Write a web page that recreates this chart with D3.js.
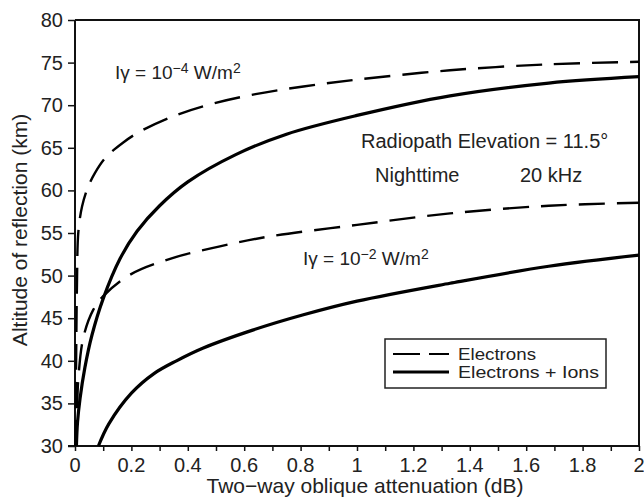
<!DOCTYPE html>
<html>
<head>
<meta charset="utf-8">
<script src="https://cdn.jsdelivr.net/npm/d3@7"></script>
<style>
  body { margin: 0; background: #fff; }
  svg { font-family: "Liberation Sans", Arial, Helvetica, sans-serif; }
</style>
</head>
<body>
<div id="chart"></div>
<script>
// [attenuation dB, altitude km]
const electronsHigh = [[0.002,30],[0.004,40],[0.007,49],[0.012,55.2],[0.025,58.1],[0.045,60.3],[0.07,62.0],[0.11,63.9],[0.17,65.6],[0.23,66.9],[0.36,68.85],[0.49,70.2],[0.64,71.3],[0.81,72.2],[1.0,73.0],[1.33,74.1],[1.68,74.8],[2.0,75.1]];
const ionsHigh = [[0.005,30],[0.009,32.8],[0.018,35.6],[0.035,39.2],[0.06,43.0],[0.1,47.3],[0.16,52.0],[0.22,55.2],[0.3,58.2],[0.4,61.0],[0.57,64.2],[0.75,66.6],[1.0,68.8],[1.33,71.1],[1.68,72.6],[2.0,73.35]];
const electronsLow = [[0.002,30],[0.007,34],[0.012,38],[0.03,42.8],[0.065,46],[0.1,47.6],[0.195,50.1],[0.34,52.0],[0.51,53.4],[0.69,54.6],[1.0,55.95],[1.33,57.3],[1.68,58.2],[2.0,58.55]];
const ionsLow = [[0.083,30],[0.12,32.6],[0.2,36.2],[0.28,38.5],[0.36,40.0],[0.455,41.5],[0.63,43.6],[0.81,45.4],[1.0,47.0],[1.33,49.1],[1.68,51.1],[2.0,52.4]];

const xTicks = d3.range(0, 2.001, 0.1);
const xLabels = [0, 0.2, 0.4, 0.6, 0.8, 1, 1.2, 1.4, 1.6, 1.8, 2];
const yTicks = [30, 35, 40, 45, 50, 55, 60, 65, 70, 75, 80];

const width = 644, height = 498;
const margin = { top: 20, right: 5, bottom: 52, left: 75 };

const svg = d3.select('#chart').append('svg')
  .attr('width', width)
  .attr('height', height);

const x = d3.scaleLinear().domain([0, 2]).range([margin.left, width - margin.right]);
const y = d3.scaleLinear().domain([30, 80]).range([height - margin.bottom, margin.top]);

// frame (top + right)
svg.append('path')
  .attr('d', `M${x(0)},${y(80)}H${x(2)}V${y(30)}`)
  .attr('fill', 'none')
  .attr('stroke', '#111')
  .attr('stroke-width', 2);

// x axis
const xAxis = svg.append('g')
  .attr('transform', `translate(0,${y(30)})`)
  .call(d3.axisBottom(x).tickValues(xTicks).tickSize(5).tickFormat(''));
xAxis.select('.domain').attr('stroke', '#111').attr('stroke-width', 2)
  .attr('d', `M${x(0) - 7},0H${x(2)}`);
xAxis.selectAll('.tick line').attr('stroke', '#111').attr('stroke-width', 1.5);

svg.append('g').selectAll('text')
  .data(xLabels)
  .enter().append('text')
  .attr('x', d => x(d))
  .attr('y', y(30) + 26)
  .attr('text-anchor', 'middle')
  .attr('font-size', 20)
  .attr('fill', '#222')
  .text(d => d);

// y axis
const yAxis = svg.append('g')
  .attr('transform', `translate(${x(0)},0)`)
  .call(d3.axisLeft(y).tickValues(yTicks).tickSize(7).tickPadding(5));
yAxis.select('.domain').attr('stroke', '#111').attr('stroke-width', 2)
  .attr('d', `M0,${y(80)}V${y(30)}`);
yAxis.selectAll('.tick line').attr('stroke', '#111').attr('stroke-width', 1.5);
yAxis.selectAll('.tick text').attr('font-size', 20).attr('fill', '#222')
  .attr('font-family', '"Liberation Sans", Arial, sans-serif');

// axis titles
svg.append('text')
  .attr('x', 365)
  .attr('y', 493)
  .attr('text-anchor', 'middle')
  .attr('font-size', 21)
  .attr('fill', '#222')
  .text('Two\u2212way oblique attenuation (dB)');

svg.append('text')
  .attr('transform', `translate(27,230) rotate(-90)`)
  .attr('text-anchor', 'middle')
  .attr('font-size', 21)
  .attr('fill', '#222')
  .text('Altitude of reflection (km)');

// curves
const line = d3.line()
  .x(d => x(d[0]))
  .y(d => y(d[1]))
  .curve(d3.curveCatmullRom.alpha(0.5));

const series = [
  { data: electronsHigh, dash: '26,12', w: 2.4 },
  { data: electronsLow, dash: '26,12', w: 2.4 },
  { data: ionsHigh, dash: null, w: 3.2 },
  { data: ionsLow, dash: null, w: 3.2 }
];

svg.append('g').selectAll('path')
  .data(series)
  .enter().append('path')
  .attr('d', d => line(d.data))
  .attr('fill', 'none')
  .attr('stroke', '#000')
  .attr('stroke-width', d => d.w)
  .attr('stroke-dasharray', d => d.dash);

// annotations
function irradiance(px, py, exp) {
  const t = svg.append('text')
    .attr('x', px)
    .attr('y', py)
    .attr('font-size', 19)
    .attr('fill', '#222');
  t.append('tspan').text('I\u03b3 = 10');
  t.append('tspan').attr('dy', -6).attr('font-size', 14).text('\u2212' + exp);
  t.append('tspan').attr('dy', 6).text(' W/m');
  t.append('tspan').attr('dy', -6).attr('font-size', 14).text('2');
}
irradiance(115, 79, 4);
irradiance(303, 265, 2);

svg.append('text')
  .attr('x', 361).attr('y', 148)
  .attr('font-size', 20).attr('fill', '#222')
  .text('Radiopath Elevation = 11.5\u00b0');
svg.append('text')
  .attr('x', 375).attr('y', 182)
  .attr('font-size', 20).attr('fill', '#222')
  .text('Nighttime');
svg.append('text')
  .attr('x', 520).attr('y', 182)
  .attr('font-size', 20).attr('fill', '#222')
  .text('20 kHz');

// legend
const legend = svg.append('g');
legend.append('rect')
  .attr('x', 385).attr('y', 339)
  .attr('width', 221).attr('height', 49)
  .attr('fill', '#fff')
  .attr('stroke', '#222')
  .attr('stroke-width', 1.5);

const legendItems = [
  { label: 'Electrons', dash: '27,9', w: 2.2, yy: 354, len: 78 },
  { label: 'Electrons + Ions', dash: null, w: 3, yy: 372, len: 141 }
];
legendItems.forEach(it => {
  legend.append('line')
    .attr('x1', 393).attr('x2', 449)
    .attr('y1', it.yy).attr('y2', it.yy)
    .attr('stroke', '#000')
    .attr('stroke-width', it.w)
    .attr('stroke-dasharray', it.dash);
  legend.append('text')
    .attr('x', 458).attr('y', it.yy + 6)
    .attr('font-size', 17)
    .attr('textLength', it.len)
    .attr('lengthAdjust', 'spacingAndGlyphs')
    .attr('fill', '#222')
    .text(it.label);
});
</script>
</body>
</html>
